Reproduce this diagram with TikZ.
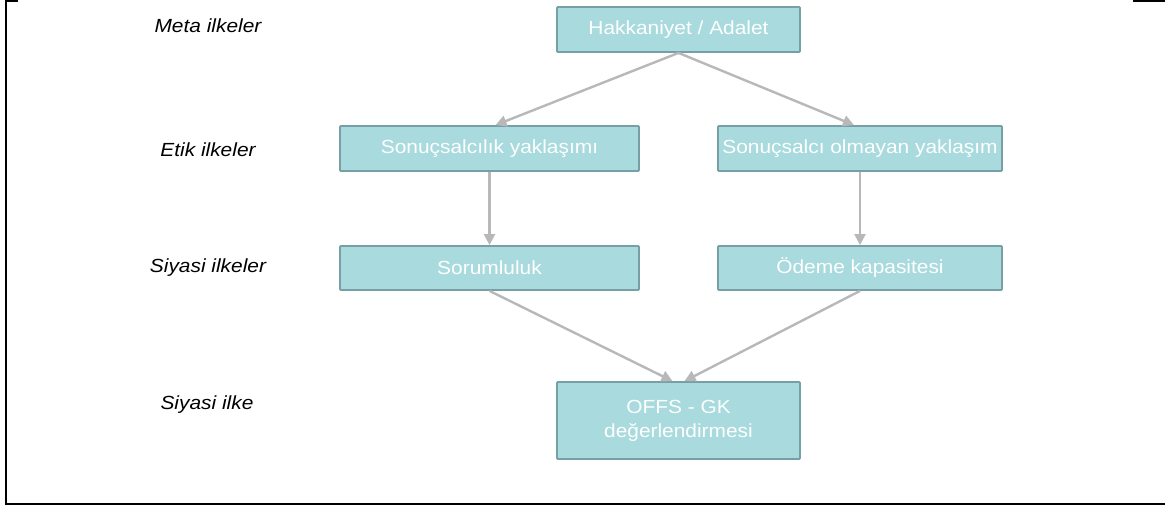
\documentclass[tikz,border=0pt]{standalone}
\usepackage{fontspec}
\setmainfont{Liberation Sans}[FakeStretch=1.1]
\usetikzlibrary{arrows.meta}
\definecolor{boxfill}{RGB}{168,218,222}
\definecolor{boxline}{RGB}{118,160,165}
\definecolor{linkgray}{RGB}{184,184,186}
\tikzset{
	level/.style={inner sep=0pt,
	minimum height=45pt,
	draw=boxline,
	fill=boxfill,
	line width=1.8pt,
	rounded corners=1pt,
	text=white,
	align=center,
	font=\fontsize{19}{24}\selectfont},
	tag/.style={inner sep=0pt,
	font=\fontsize{19}{22}\selectfont\itshape},
	link/.style={draw=linkgray,
	line width=2.4pt,
	-{Triangle[length=11pt,width=11pt]}}
}
\begin{document}
\begin{tikzpicture}[x=1pt,y=-1pt]
	\useasboundingbox (0,0) rectangle (1165,506);
	\draw[line width=2pt] (18,1) -- (6,1) -- (6,504) -- (1165,504);
	\draw[line width=2pt] (1133,1) -- (1165,1);
	
	\node[tag] (t0) at (208,26) {Meta ilkeler};
	\node[tag] (t1) at (208,150) {Etik ilkeler};
	\node[tag] (t2) at (208,268) {Siyasi ilkeler};
	\node[tag] (t3) at (207,405) {Siyasi ilke};
	
	\node[level,minimum width=243pt] (n0) at (678.5,29.5) {Hakkaniyet / Adalet};
	\node[level,minimum width=299pt] (n1) at (489.5,148.5) {Sonuçsalcılık yaklaşımı};
	\node[level,minimum width=284pt] (n2) at (860,148.5) {Sonuçsalcı olmayan yaklaşım};
	\node[level,minimum width=299pt,minimum height=44pt] (n3) at (489.5,268) {Sorumluluk};
	\node[level,minimum width=284pt,minimum height=44pt] (n4) at (860,268) {Ödeme kapasitesi};
	\node[level,minimum width=243pt,minimum height=77pt] (n5) at (678.5,420.5) {OFFS - GK\\değerlendirmesi};
	
	\draw[link] (n0.south) -- ([xshift=6pt]n1.north);
	\draw[link] (n0.south) -- ([xshift=-6pt]n2.north);
	\draw[link] (n1) -- (n3);
	\draw[link] (n2) -- (n4);
	\draw[link] (n3.south) -- ([xshift=-6pt]n5.north);
	\draw[link] (n4.south) -- ([xshift=6pt]n5.north);
	
\end{tikzpicture}
\end{document}
